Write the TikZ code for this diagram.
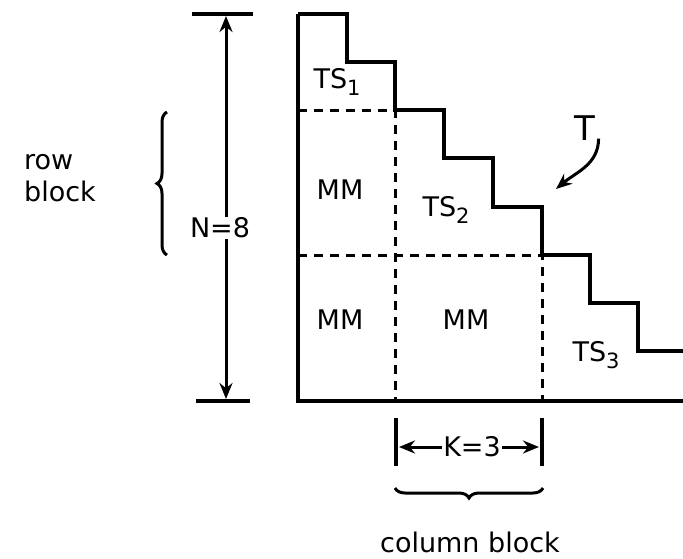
\documentclass[tikz,border=0pt]{standalone}
\usepackage{fontspec}
\setmainfont{DejaVu Sans}
\usepackage{tikz}
\usetikzlibrary{arrows.meta,decorations.pathreplacing}

\newcommand{\sub}[1]{\raisebox{-7pt}{\fontsize{21}{21}\selectfont #1}}

\begin{document}
\begin{tikzpicture}[x=1pt,y=-1pt,
  lbl/.style={font=\fontsize{27}{32}\selectfont,inner sep=1pt},
  edge/.style={line width=4pt,line join=miter},
  blk/.style={line width=3pt,dash pattern=on 9pt off 7pt},
  bar/.style={line width=3.5pt},
  brc/.style={decorate,decoration={brace,amplitude=10pt},line width=3pt},
  arr/.style={->,line width=3pt},
  >={Stealth[length=16pt,width=13pt]}]
\useasboundingbox (0,0) rectangle (683,558);
% triangular matrix T
\draw[edge] (298,14) -- (298,401) -- (683,401);
\draw[edge] (298,14) -| (347,62) -| (395,110) -| (444,158) -| (493,207)
  -| (542,255) -| (590,303) -| (638,351) -- (683,351);
% block partition
\draw[blk] (298,110) -- (395,110) -- (395,401);
\draw[blk] (298,255) -- (542,255) -- (542,401);
\node[lbl] (ts1) at (337,82) {TS\sub{1}};
\node[lbl] (mm1) at (340,190) {MM};
\node[lbl] (ts2) at (446,210) {TS\sub{2}};
\node[lbl] (mm2) at (340,320) {MM};
\node[lbl] (mm3) at (466,320) {MM};
\node[lbl] (ts3) at (596,355) {TS\sub{3}};
% size N
\draw[bar] (192,14) -- (253,14);
\draw[bar] (196,401) -- (250,401);
\coordinate (ntop) at (226,16);
\coordinate (nbot) at (226,399);
\node[lbl,fill=white] (nlen) at (220,228) {N=8};
\draw[arr] (nlen.north -| ntop) -- (ntop);
\draw[arr] (nlen.south -| nbot) -- (nbot);
% row block
\coordinate (rowlo) at (167,255);
\coordinate (rowhi) at (167,112);
\draw[brc] (rowlo) -- (rowhi);
\node[lbl,align=left] (rowblk) at (60,178) {row\\block};
% T label
\node[lbl,font=\fontsize{34}{38}\selectfont] (tname) at (585,128) {T};
\coordinate (ttip) at (556,189);
\draw[arr] ([xshift=2pt,yshift=3pt]tname.south east) to[out=-90,in=40] (ttip);
% block size K
\draw[bar] (396,418) -- (396,466);
\draw[bar] (542,418) -- (542,466);
\node[lbl] (klen) at (472,447) {K=3};
\coordinate (kl) at (399,447);
\coordinate (kr) at (539,447);
\draw[arr] (klen) -- (kl);
\draw[arr] (klen) -- (kr);
% column block
\coordinate (colr) at (543,488);
\coordinate (coll) at (395,488);
\draw[brc] (colr) -- (coll);
\node[lbl] (colblk) at (470,542) {column block};
\end{tikzpicture}
\end{document}
